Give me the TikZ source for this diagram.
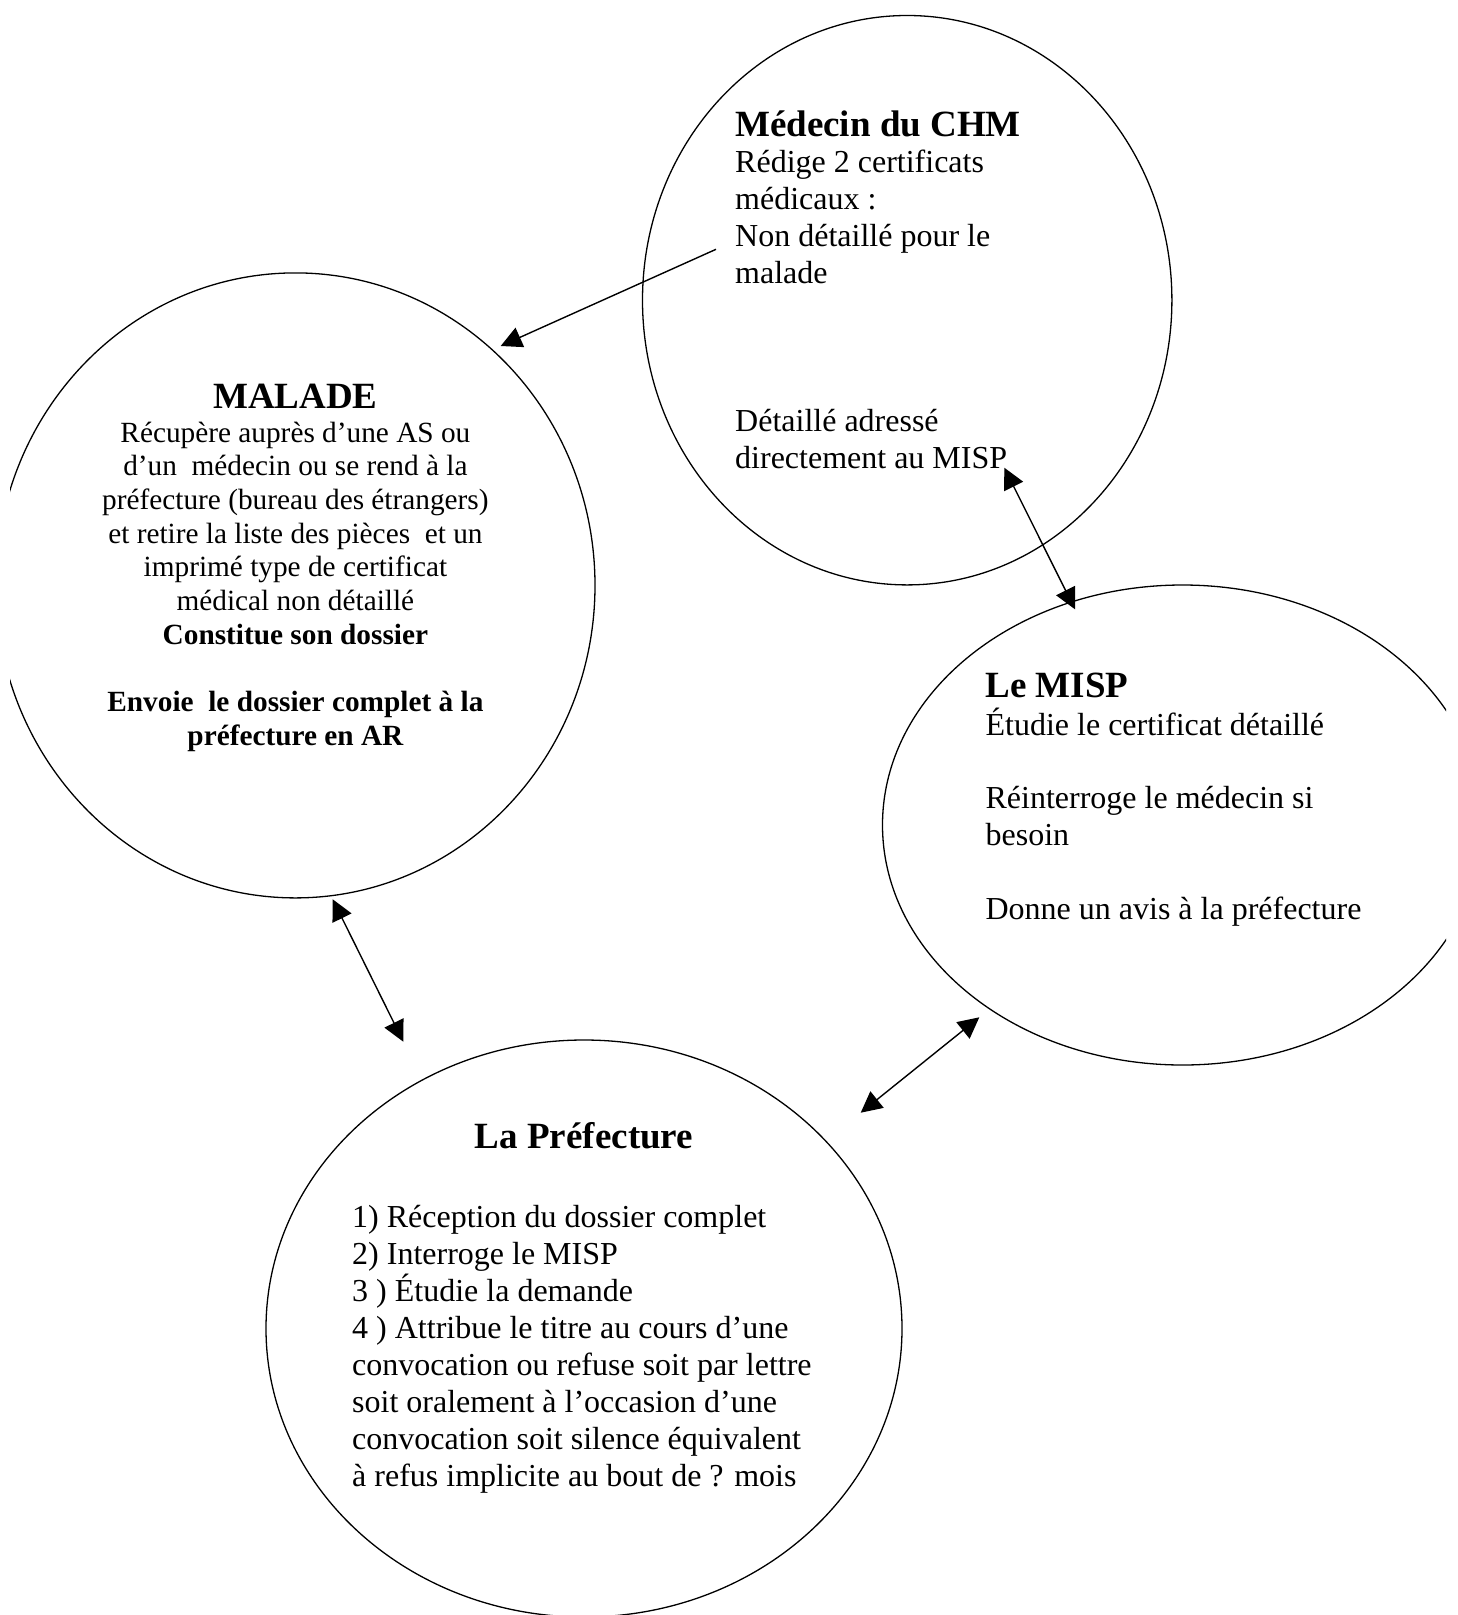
\documentclass[tikz,border=0pt]{standalone}
\usepackage{fontspec}
\setmainfont{Liberation Serif}
\usetikzlibrary{shapes.geometric,arrows.meta}
\tikzset{
  bubble/.style={draw, ellipse, line width=1.3pt, inner sep=0pt, outer sep=0pt},
  ttl/.style={font=\fontsize{37}{42}\selectfont\bfseries, inner sep=0pt},
  txt/.style={font=\fontsize{32}{37}\selectfont, inner sep=0pt},
  stxt/.style={font=\fontsize{29.3}{33.7}\selectfont, inner sep=0pt},
  sbtxt/.style={font=\fontsize{29.3}{33.7}\selectfont\bfseries, inner sep=0pt},
  tip/.tip={Triangle[length=21pt,width=21pt]},
  link/.style={line width=1.4pt, -tip},
  dlink/.style={line width=1.4pt, tip-tip}
}
\begin{document}
\begin{tikzpicture}[x=1pt,y=-1pt]
\useasboundingbox (0,0) rectangle (1458,1615);
\begin{scope}
\clip (10,0) rectangle (1446,1614);
\node[bubble, minimum width=529.4pt, minimum height=569.4pt] (med) at (907.2,300.2) {};
\node[bubble, minimum width=599.2pt, minimum height=625pt] (mal) at (295.4,585.4) {};
\node[bubble, minimum width=600pt, minimum height=480pt] (misp) at (1182.5,825) {};
\node[bubble, minimum width=636pt, minimum height=577pt] (pref) at (584,1328.5) {};
\end{scope}

% Medecin du CHM
\node[ttl, anchor=base west] (medT) at (735,136) {Médecin du CHM};
\node[txt, anchor=base west] (med1) at (735,172.5) {Rédige 2 certificats};
\node[txt, anchor=base west] (med2) at (735,209.5) {médicaux :};
\node[txt, anchor=base west] (med3) at (735,246.5) {Non détaillé pour le};
\node[txt, anchor=base west] (med4) at (735,283.5) {malade};
\node[txt, anchor=base west] (med5) at (735,431) {Détaillé adressé};
\node[txt, anchor=base west] (med6) at (735,468) {directement au MISP};

% MALADE
\node[ttl, anchor=base] (malT) at (295.4,408) {MALADE};
\node[stxt, anchor=base] (mal1) at (295.4,442) {Récupère auprès d’une AS ou};
\node[stxt, anchor=base] (mal2) at (295.4,475.7) {d’un~ médecin ou se rend à la};
\node[stxt, anchor=base] (mal3) at (295.4,509.4) {préfecture (bureau des étrangers)};
\node[stxt, anchor=base] (mal4) at (295.4,543.1) {et retire la liste des pièces~ et un};
\node[stxt, anchor=base] (mal5) at (295.4,576.8) {imprimé type de certificat};
\node[stxt, anchor=base] (mal6) at (295.4,610.5) {médical non détaillé};
\node[sbtxt, anchor=base] (mal7) at (295.4,644.2) {Constitue son dossier};
\node[sbtxt, anchor=base] (mal8) at (295.4,711.6) {Envoie~ le dossier complet à la};
\node[sbtxt, anchor=base] (mal9) at (295.4,745.3) {préfecture en AR};

% Le MISP
\node[ttl, anchor=base west] (mispT) at (985.4,697) {Le MISP};
\node[txt, anchor=base west] (misp1) at (985.4,735) {Étudie le certificat détaillé};
\node[txt, anchor=base west] (misp2) at (985.4,808.6) {Réinterroge le médecin si};
\node[txt, anchor=base west] (misp3) at (985.4,845.4) {besoin};
\node[txt, anchor=base west] (misp4) at (985.4,919) {Donne un avis à la préfecture};

% La Prefecture
\node[ttl, anchor=base] (prefT) at (584,1148) {La Préfecture};
\node[txt, anchor=base west] (pref1) at (352,1227.5) {1) Réception du dossier complet};
\node[txt, anchor=base west] (pref2) at (352,1264.5) {2) Interroge le MISP};
\node[txt, anchor=base west] (pref3) at (352,1301.5) {3 ) Étudie la demande};
\node[txt, anchor=base west] (pref4) at (352,1338.5) {4 ) Attribue le titre au cours d’une};
\node[txt, anchor=base west] (pref5) at (352,1375.5) {convocation ou refuse soit par lettre};
\node[txt, anchor=base west] (pref6) at (352,1412.5) {soit oralement à l’occasion d’une};
\node[txt, anchor=base west] (pref7) at (352,1449.5) {convocation soit silence équivalent};
\node[txt, anchor=base west] (pref8) at (352,1486.5) {à refus implicite au bout de ? mois};

% connectors
\coordinate (a1s) at (716,249.3);
\coordinate (a1e) at (500.7,346);
\coordinate (a2s) at (1004.3,467.7);
\coordinate (a2e) at (1075,609.3);
\coordinate (a3s) at (332.7,899.3);
\coordinate (a3e) at (403.3,1041.7);
\coordinate (a4s) at (860.7,1112.7);
\coordinate (a4e) at (979.3,1017.3);
\draw[link] (a1s) -- (a1e);
\draw[dlink] (a2s) -- (a2e);
\draw[dlink] (a3s) -- (a3e);
\draw[dlink] (a4s) -- (a4e);
\end{tikzpicture}
\end{document}
